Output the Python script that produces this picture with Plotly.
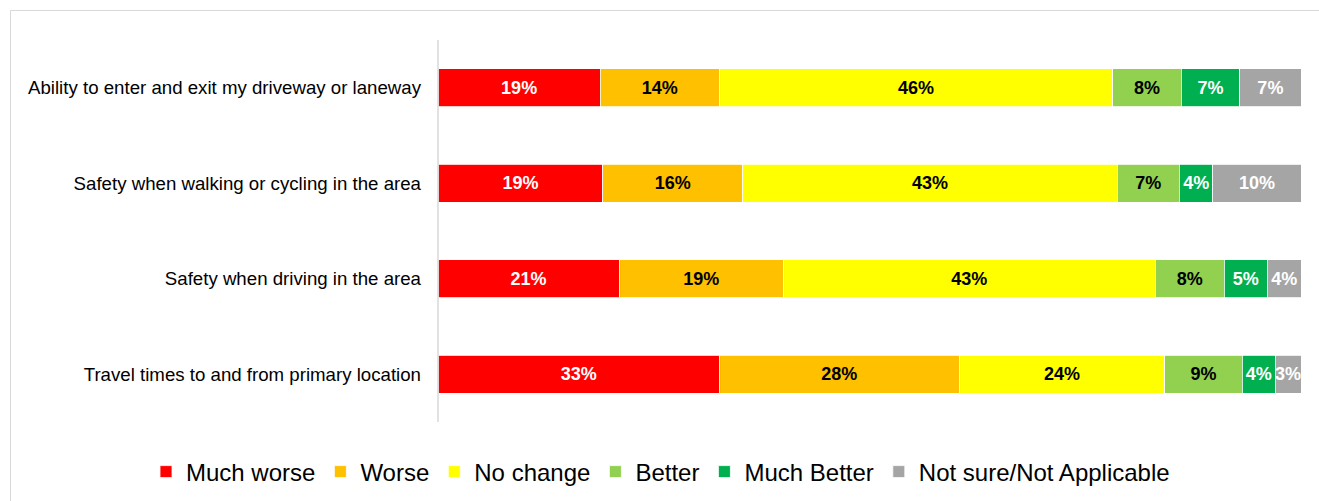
import plotly.graph_objects as go

categories = [
    "Ability to enter and exit my driveway or laneway",
    "Safety when walking or cycling in the area",
    "Safety when driving in the area",
    "Travel times to and from primary location",
]
series_names = ["Much worse", "Worse", "No change", "Better", "Much Better", "Not sure/Not Applicable"]
much_worse = [18.8, 19.1, 21.0, 32.6]
worse = [13.8, 16.2, 19.0, 27.8]
no_change = [45.6, 43.4, 43.1, 23.8]
better = [7.9, 7.2, 8.0, 9.0]
much_better = [6.8, 3.9, 5.0, 3.8]
not_sure = [7.1, 10.2, 3.9, 3.0]

series_values = [much_worse, worse, no_change, better, much_better, not_sure]
colors = ["#FF0000", "#FFC000", "#FFFF00", "#92D050", "#00B050", "#A5A5A5"]
text_colors = ["white", "black", "black", "black", "white", "white"]

FONT = "Liberation Sans, Arial, sans-serif"

fig = go.Figure()
for name, vals, col, tc in zip(series_names, series_values, colors, text_colors):
    fig.add_trace(go.Bar(
        y=categories, x=vals, name=name, orientation="h",
        marker=dict(color=col, line=dict(color="white", width=0.8)),
        texttemplate="%{x:.0f}%", textposition="inside", insidetextanchor="middle",
        textangle=0,
        textfont=dict(family=FONT, size=18, color=tc, weight="bold"),
        constraintext="none", cliponaxis=False,
    ))

W, H = 1319, 501
L, R, T, B = 438, 18, 40, 79
pw, ph = W - L - R, H - T - B

def px_x(x):
    return (x - L) / pw

def px_y(y):
    return 1 - (y - T) / ph

fig.update_layout(
    width=W, height=H,
    barmode="stack", bargap=0.6,
    margin=dict(l=L, r=R, t=T, b=B, autoexpand=False),
    paper_bgcolor="white", plot_bgcolor="white",
    font=dict(family=FONT, size=18.67, color="black"),
    xaxis=dict(range=[0, 100], visible=False, fixedrange=True),
    yaxis=dict(autorange="reversed", showline=False, showgrid=False, ticks="",
               ticklabelstandoff=16, tickfont=dict(family=FONT, size=18.67, color="black")),
    legend=dict(orientation="h", xref="paper", yref="paper",
                x=px_x(146), xanchor="left", y=px_y(472), yanchor="middle",
                font=dict(family=FONT, size=24, color="black"), traceorder="normal",
                itemclick=False, bgcolor="rgba(0,0,0,0)"),
    showlegend=True,
    shapes=[
        dict(type="rect", xref="paper", yref="paper",
             x0=px_x(10.5), x1=px_x(1330), y0=px_y(520), y1=px_y(10.5),
             line=dict(color="#D9D9D9", width=1), fillcolor="rgba(0,0,0,0)", layer="below"),
        dict(type="line", xref="paper", yref="paper",
             x0=px_x(438), x1=px_x(438), y0=px_y(422), y1=px_y(40),
             line=dict(color="#D9D9D9", width=1.5)),
    ],
)

fig.write_html("out.html", config={"displayModeBar": False},
               post_script="document.body.style.margin='0';document.body.style.overflow='hidden';")
